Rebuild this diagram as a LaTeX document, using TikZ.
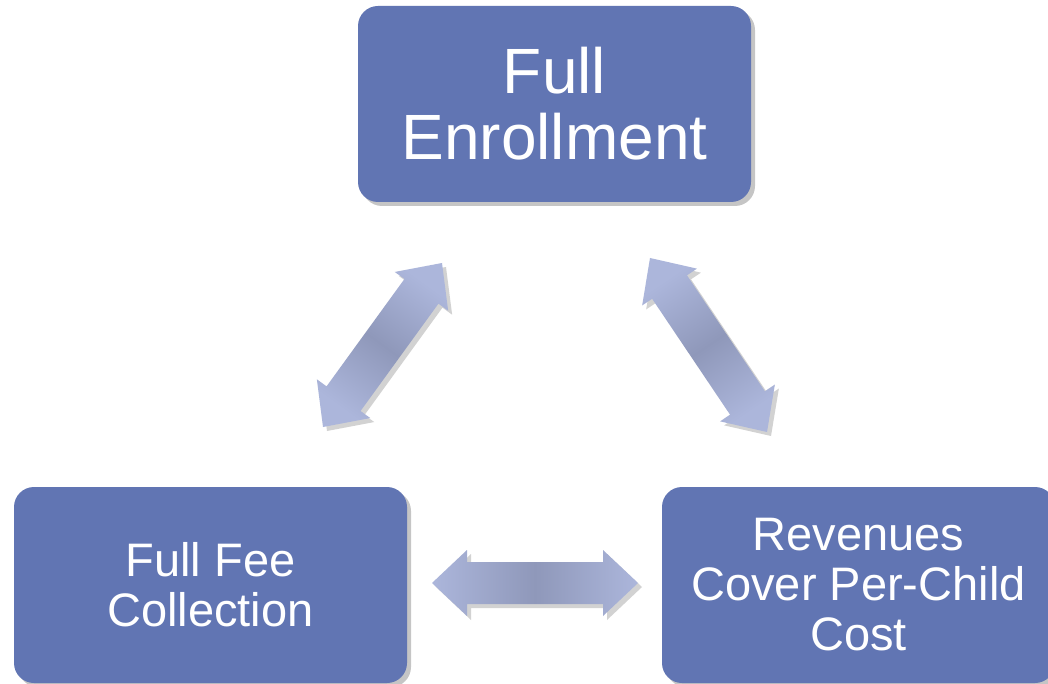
\documentclass[tikz,border=0pt]{standalone}
\usepackage{fontspec}
\setmainfont{Liberation Sans}
\usetikzlibrary{calc,shadows}
\definecolor{boxblue}{RGB}{97,117,179}
\definecolor{arrowlight}{RGB}{172,182,219}
\definecolor{arrowdark}{RGB}{143,152,186}
\tikzset{
  bigbox/.style={rectangle, rounded corners=20pt, fill=boxblue, text=white,
    minimum width=393pt, minimum height=196pt, inner sep=0pt, align=center,
    drop shadow={shadow xshift=4pt, shadow yshift=-4pt, opacity=0.45}},
  arrowbody/.style={top color=arrowlight, bottom color=arrowlight, middle color=arrowdark,
    drop shadow={shadow xshift=4pt, shadow yshift=-4pt, opacity=0.35}}
}
\newcommand{\fatarrow}[3]{%
  \coordinate (pa) at ($(#1)!35pt!(#2)$);
  \coordinate (pb) at ($(#2)!35pt!(#1)$);
  \path[arrowbody, shading angle=#3] (#1) -- ($(pa)!33pt!90:(#2)$) -- ($(pa)!21pt!90:(#2)$)
    -- ($(pb)!21pt!-90:(#1)$) -- ($(pb)!33pt!-90:(#1)$) -- (#2)
    -- ($(pb)!33pt!90:(#1)$) -- ($(pb)!21pt!90:(#1)$)
    -- ($(pa)!21pt!-90:(#2)$) -- ($(pa)!33pt!-90:(#2)$) -- cycle;
}
\begin{document}
\begin{tikzpicture}[x=1pt,y=-1pt]
\useasboundingbox[fill=white] (0,0) rectangle (1048,684);
\node[bigbox, font=\fontsize{64}{66}\selectfont] (top) at (554.5,104) {Full\\Enrollment};
\node[bigbox, font=\fontsize{47}{50}\selectfont] (left) at (210.5,585) {Full Fee\\Collection};
\node[bigbox, font=\fontsize{47}{50}\selectfont] (right) at (858.5,585) {Revenues\\Cover Per-Child\\Cost};
\coordinate (l1) at (323,427);
\coordinate (l2) at (442,263);
\coordinate (r1) at (650,258);
\coordinate (r2) at (767,432);
\coordinate (h1) at (432,583);
\coordinate (h2) at (638,583);
\fatarrow{l1}{l2}{-36}
\fatarrow{r1}{r2}{34}
\fatarrow{h1}{h2}{90}
\end{tikzpicture}
\end{document}
